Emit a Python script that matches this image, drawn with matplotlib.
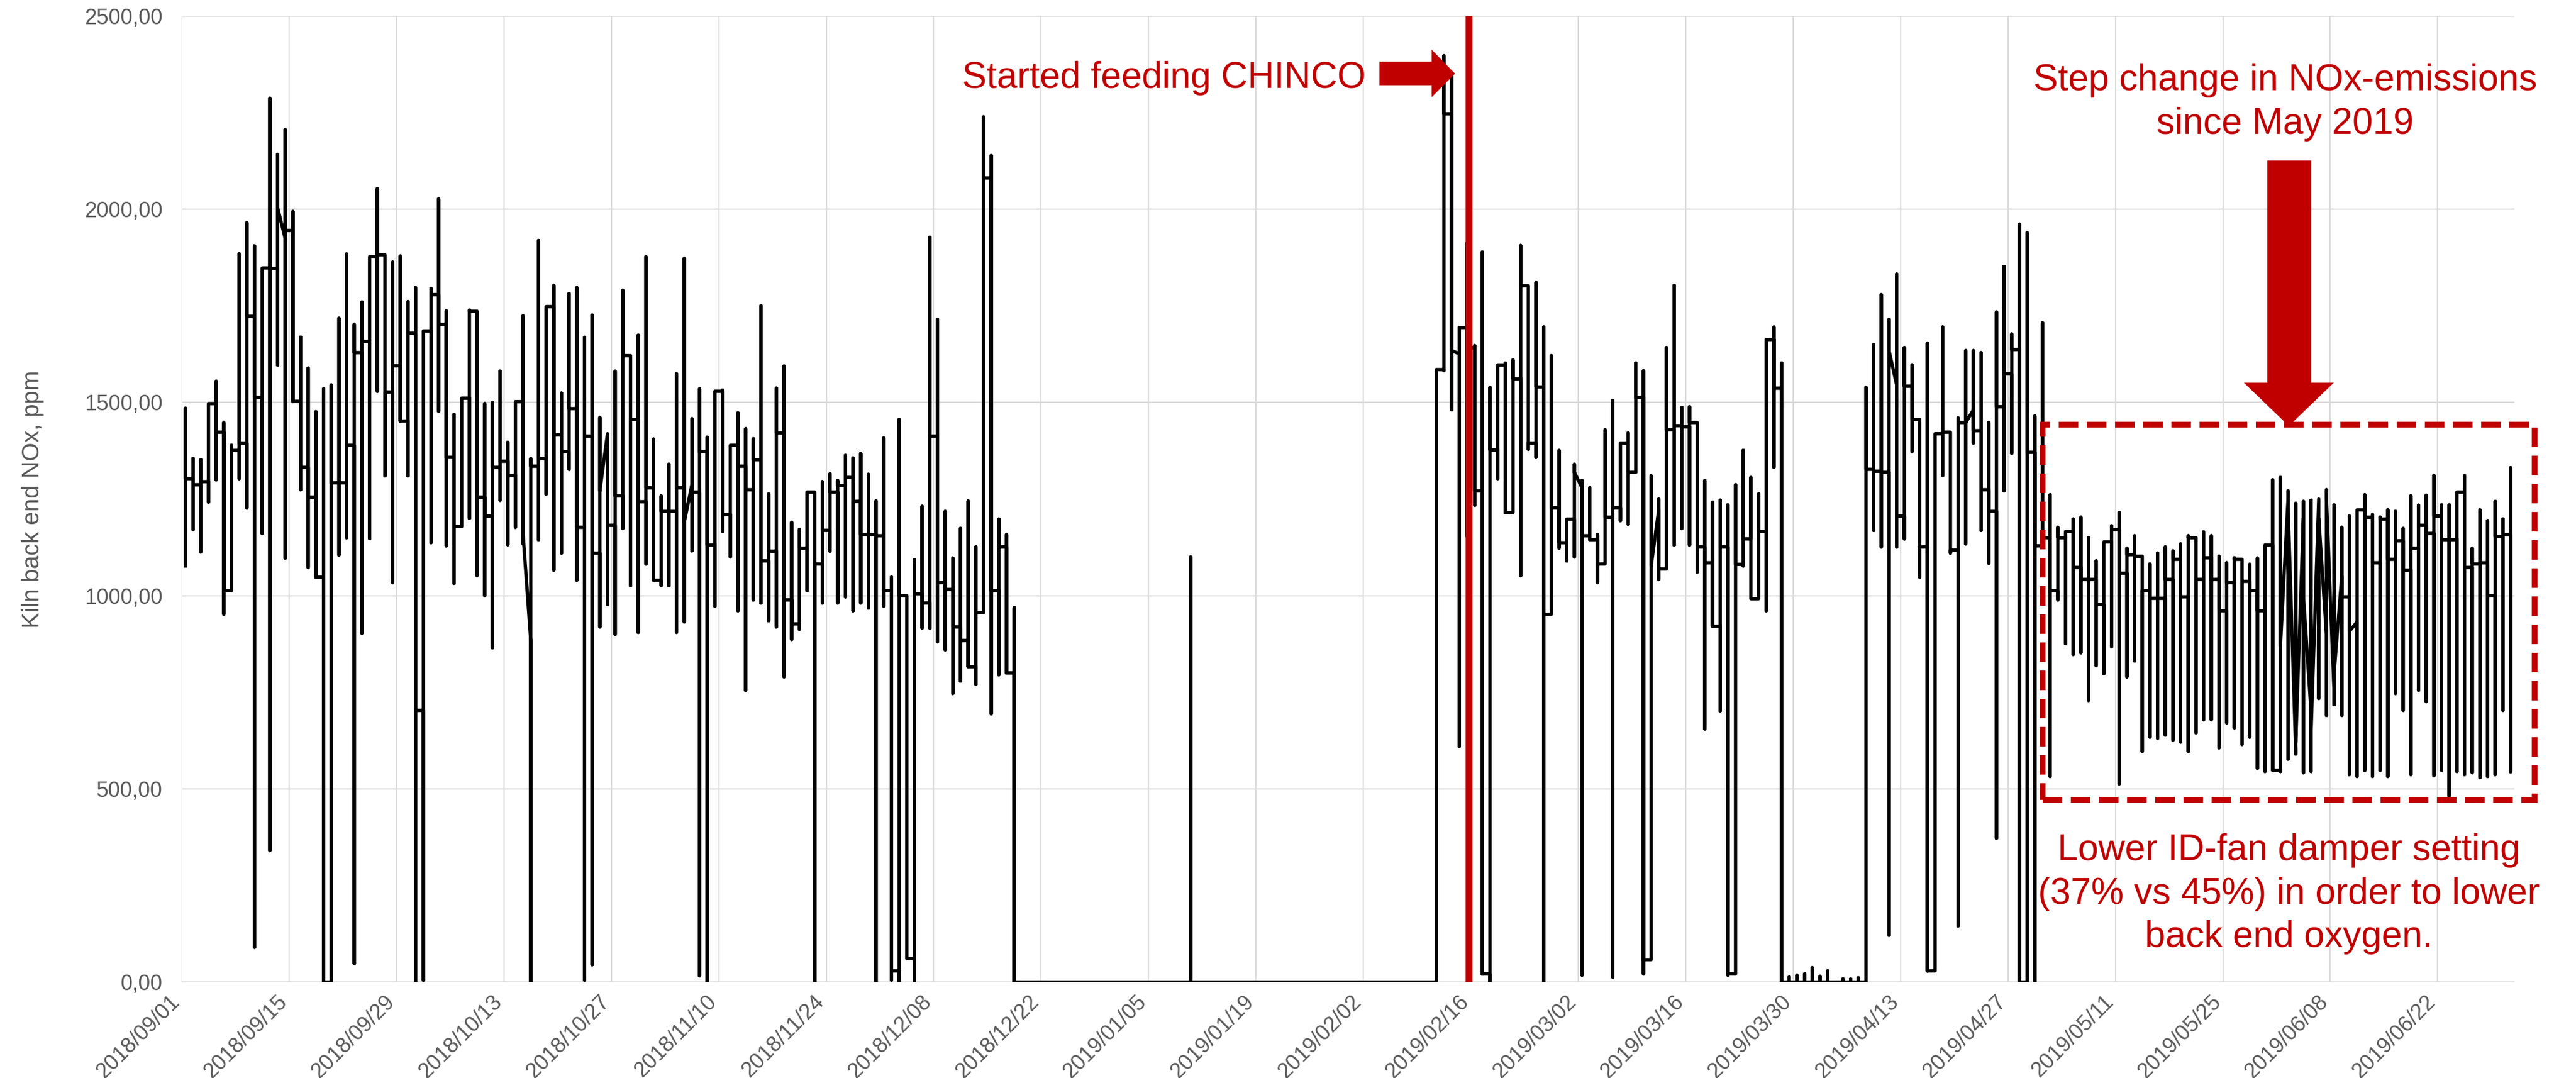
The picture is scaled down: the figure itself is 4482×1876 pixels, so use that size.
import pandas as pd
import matplotlib.pyplot as plt
from matplotlib.patches import Polygon, Rectangle
from matplotlib.transforms import ScaledTranslation

plt.rcParams['font.family'] = ['Liberation Sans', 'DejaVu Sans']

red = '#C00000'
grey = '#595959'
start_date = pd.Timestamp('2018-09-01')

# Campaign 1 (2018/09/01 - 2018/12/18): daily max, min and end-of-day value, ppm
hi1 = [1485, 1355, 1352, 1497, 1555, 1448, 1389, 1885, 1965, 1905,
       1848, 2287, 2142, 2206, 1994, 1669, 1589, 1476, 1535, 1545,
       1718, 1884, 1702, 1760, 1877, 2053, 1882, 1863, 1879, 1761,
       1797, 1685, 1795, 2027, 1737, 1469, 1511, 1739, 1736, 1497,
       1500, 1581, 1397, 1502, 1724, 1355, 1919, 1748, 1803, 1524,
       1782, 1797, 1668, 1726, 1461, 1419, 1581, 1790, 1621, 1674,
       1877, 1405, 1258, 1340, 1574, 1873, 1458, 1535, 1410, 1529,
       1532, 1389, 1473, 1432, 1406, 1750, 1263, 1537, 1594, 1190,
       1171, 1268, 1268, 1295, 1315, 1298, 1363, 1356, 1368, 1314,
       1245, 1408, 1048, 1456, 1000, 1093, 1231, 1927, 1715, 1218,
       1097, 1174, 1245, 1126, 2239, 2139, 1198, 1158, 969]
lo1 = [1077, 1171, 1113, 1242, 1300, 952, 1013, 1303, 1227, 90,
       1161, 340, 1597, 1097, 1503, 1274, 1073, 1048, 0, 0,
       1105, 1150, 48, 903, 1148, 1529, 1310, 1034, 1452, 1310,
       0, 5, 1137, 1477, 1129, 1032, 1179, 1200, 1052, 1000,
       865, 1247, 1132, 1177, 1134, 0, 1145, 1263, 1066, 1110,
       1327, 1040, 5, 45, 919, 977, 900, 1174, 1026, 905,
       1082, 1040, 1026, 1026, 905, 932, 1116, 16, 0, 973,
       1166, 1100, 961, 755, 989, 981, 935, 919, 790, 887,
       913, 1013, 0, 981, 1115, 981, 997, 961, 981, 968,
       0, 973, 5, 0, 61, 0, 916, 916, 881, 860,
       747, 779, 816, 771, 956, 694, 795, 800, 0]
end1 = [1303, 1287, 1295, 1497, 1423, 1013, 1376, 1395, 1723, 1513,
        1848, 1847, 2005, 1945, 1503, 1332, 1255, 1048, 0, 1292,
        1292, 1389, 1629, 1658, 1877, 1882, 1527, 1595, 1452, 1679,
        703, 1685, 1779, 1702, 1358, 1179, 1511, 1736, 1255, 1206,
        1332, 1348, 1311, 1502, 1158, 1335, 1355, 1748, 1416, 1373,
        1484, 1177, 1413, 1110, 1271, 1182, 1258, 1621, 1456, 1243,
        1279, 1040, 1218, 1218, 1279, 1190, 1268, 1373, 1131, 1529,
        1210, 1389, 1335, 1274, 1352, 1090, 1115, 1421, 989, 927,
        1123, 1268, 1082, 1169, 1268, 1285, 1306, 1244, 1158, 1158,
        1155, 1013, 29, 1000, 61, 1005, 981, 1413, 1034, 1016,
        919, 884, 816, 956, 2081, 1013, 1126, 800, 0]
# first reading of a day when it differs from the previous day's last one
jump1 = {13: 1924, 45: 884, 55: 1419, 66: 1287}

# kiln stop: readings at zero, one spike on 2019/01/10
spike_day = 131
spike_val = 1100

# Campaign 2 (2019/02/11 - 2019/07/01)
first2 = 163
hi2 = [1585, 2397, 2352, 1694, 1913, 1647, 1889, 1539, 1597, 1602,
       1610, 1906, 1802, 1811, 1695, 1621, 1376, 1198, 1340, 1298,
       1279, 1158, 1429, 1505, 1395, 1421, 1602, 1582, 1310, 1250,
       1642, 1803, 1487, 1489, 1448, 1298, 1242, 1247, 1235, 1287,
       1376, 1306, 1263, 1663, 1695, 1602, 13, 18, 21, 37,
       15, 29, 0, 8, 8, 11, 1539, 1650, 1779, 1715,
       1832, 1642, 1597, 1456, 1653, 1419, 1695, 1423, 1460, 1634,
       1634, 1629, 1448, 1734, 1852, 1677, 1961, 1939, 1465, 1706,
       1261, 1177, 1166, 1198, 1203, 1150, 1090, 1139, 1181, 1215,
       1123, 1155, 1102, 1082, 1110, 1126, 1116, 1134, 1155, 1147,
       1165, 1155, 1102, 1085, 1098, 1090, 1081, 1097, 1131, 1300,
       1306, 1271, 1239, 1244, 1247, 1250, 1274, 1235, 1177, 1206,
       1213, 1261, 1210, 1203, 1222, 1218, 1174, 1258, 1234, 1260,
       1311, 1235, 1235, 1266, 1311, 1123, 1222, 1194, 1244, 1198,
       1331]
lo2 = [0, 1582, 1481, 610, 1153, 1234, 21, 0, 1303, 1215,
       1215, 1052, 1379, 1358, 0, 952, 1123, 1090, 1100, 18,
       1145, 1034, 1082, 13, 1194, 1185, 1319, 21, 58, 1042,
       1069, 1131, 1174, 1131, 1061, 655, 921, 702, 18, 21,
       1077, 992, 992, 961, 1332, 0, 0, 0, 0, 0,
       0, 0, 0, 0, 0, 0, 0, 1169, 1126, 121,
       1126, 1147, 1373, 1048, 29, 29, 1311, 1110, 145, 1134,
       1395, 1169, 1084, 372, 1271, 1368, 0, 0, 0, 1129,
       532, 989, 876, 848, 852, 729, 819, 798, 868, 513,
       790, 831, 597, 634, 631, 639, 626, 621, 597, 645,
       679, 679, 606, 671, 658, 615, 634, 553, 545, 548,
       545, 577, 590, 542, 545, 734, 690, 718, 690, 537,
       532, 548, 532, 548, 532, 747, 703, 537, 755, 726,
       534, 548, 481, 545, 537, 542, 529, 532, 537, 703,
       545]
end2 = [1585, 2247, 1634, 1694, 1642, 1271, 21, 1377, 1597, 1215,
        1561, 1802, 1395, 1540, 952, 1227, 1137, 1198, 1319, 1155,
        1145, 1082, 1203, 1227, 1395, 1319, 1513, 58, 1077, 1069,
        1429, 1440, 1437, 1448, 1126, 1085, 921, 1126, 21, 1081,
        1147, 992, 1166, 1663, 1537, 0, 0, 0, 0, 0,
        0, 0, 0, 0, 0, 0, 1327, 1322, 1319, 1634,
        1206, 1542, 1456, 1126, 29, 1419, 1423, 1118, 1448, 1448,
        1427, 1274, 1218, 1489, 1574, 1637, 0, 1371, 1129, 1150,
        1013, 1150, 1166, 1073, 1042, 1042, 977, 1139, 1171, 1058,
        1106, 1102, 1013, 993, 993, 1042, 1094, 997, 1150, 1042,
        1098, 1042, 961, 1034, 1094, 1037, 1013, 961, 1131, 548,
        870, 1230, 620, 1000, 650, 1200, 1250, 800, 997, 908,
        1222, 1203, 1085, 1198, 1094, 1142, 1066, 1123, 1182, 1161,
        1206, 1145, 1145, 1268, 1073, 1082, 1085, 1000, 1153, 1158,
        545]
jump2 = {166: 1626, 182: 1279, 192: 1223, 223: 1545, 233: 1481,
         274: 1250, 275: 600, 276: 1200, 277: 700, 278: 1250,
         279: 900, 280: 750, 281: 1050, 283: 932}

chinco_day = 167.8
n_days = 304

# Build the line: all readings of one day share the same x (Excel date axis)
xs, ys = [], []


def add_days(first, hi, lo, end, jump):
    for i in range(len(hi)):
        d = first + i
        s = jump.get(d, ys[-1] if ys else lo[i])
        xs.extend([d + 0.5] * 4)
        ys.extend([s, lo[i], hi[i], end[i]])


add_days(0, hi1, lo1, end1, jump1)
xs.extend([spike_day + 0.5] * 3)
ys.extend([0, spike_val, 0])
add_days(first2, hi2, lo2, end2, jump2)

fig = plt.figure(figsize=(22.41, 9.38), dpi=200)
ax = fig.add_axes([0.0705, 0.089, 0.9056, 0.8961])

ax.plot(xs, ys, color='black', lw=2.1, zorder=3)

ax.set_xlim(0, n_days)
ax.set_ylim(0, 2500)
tick_days = list(range(0, 295, 14))
ax.set_xticks(tick_days)
ax.set_xticklabels([(start_date + pd.Timedelta(days=t)).strftime('%Y/%m/%d') for t in tick_days],
                   rotation=45, ha='right', va='top', rotation_mode='anchor')
ax.set_yticks(range(0, 2501, 500))
ax.set_yticklabels(['%d,00' % v for v in range(0, 2501, 500)])
ax.tick_params(axis='both', length=0, labelsize=13.5, labelcolor=grey)
ax.tick_params(axis='x', pad=6)
ax.tick_params(axis='y', pad=12)
for lab in ax.get_xticklabels():
    lab.set_transform(lab.get_transform() + ScaledTranslation(-0.11, 0, fig.dpi_scale_trans))

ax.set_ylabel('Kiln back end NOx, ppm', fontsize=15, color=grey, labelpad=25)
ax.grid(True, color='#D9D9D9', lw=0.8)
ax.set_axisbelow(True)
for s in ax.spines.values():
    s.set_visible(False)

# CHINCO start
ax.axvline(chinco_day, color=red, lw=4.3, zorder=4)
ax.text(154.3, 2314, 'Started feeding CHINCO', color=red, fontsize=23, ha='right', va='baseline')
ax.add_patch(Polygon([(156.2, 2323), (163.0, 2323), (163.0, 2295), (165.8, 2351),
                      (163.0, 2408), (163.0, 2380), (156.2, 2380)],
                     closed=True, color=red, zorder=5, clip_on=False))

# step change
ax.text(274.1, 2277, 'Step change in NOx-emissions\nsince May 2019', color=red, fontsize=23,
        ha='center', va='center', linespacing=1.33)
ax.add_patch(Polygon([(271.9, 2124), (277.4, 2124), (277.4, 1549), (280.2, 1549),
                      (274.6, 1442), (269.0, 1549), (271.9, 1549)],
                     closed=True, color=red, zorder=5, clip_on=False))
ax.add_patch(Rectangle((242.5, 472), 64.1, 970, fill=False, edgecolor=red, lw=3.6,
                       linestyle=(0, (3.4, 1.5)), zorder=5, clip_on=False))
ax.text(274.6, 228, 'Lower ID-fan damper setting\n(37% vs 45%) in order to lower\nback end oxygen.',
        color=red, fontsize=23, ha='center', va='center', linespacing=1.33)

fig.savefig('out.png', dpi=200)
